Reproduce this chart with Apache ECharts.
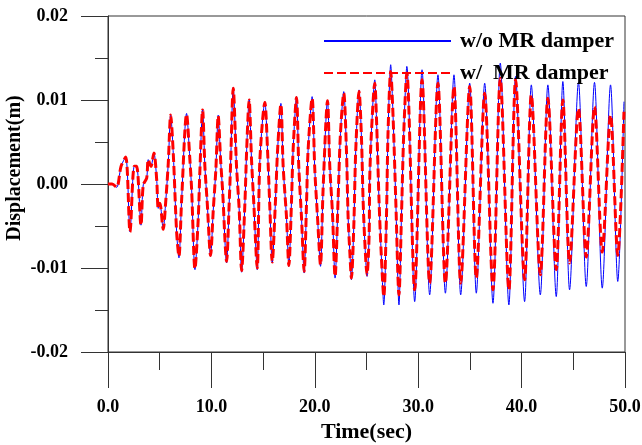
<!DOCTYPE html>
<html>
<head>
<meta charset="utf-8">
<script src="https://cdn.jsdelivr.net/npm/echarts@6/dist/echarts.min.js"></script>
<style>html,body{margin:0;padding:0;background:#fff}#c{width:642px;height:445px}</style>
</head>
<body>
<div id="c"></div>
<script>
const xTicks = [0, 10, 20, 30, 40, 50];
const yTicks = [-0.02, -0.01, 0.00, 0.01, 0.02];
const seriesNames = ['w/o MR damper', 'w/  MR damper'];
const yTitle = 'Displacement(m)';

const time = [
  0.00, 0.40, 0.84, 1.26, 1.71, 2.13, 2.54, 2.77, 3.19, 3.41, 3.74, 3.89, 4.15, 4.44, 4.71, 4.86, 5.02, 5.34, 5.57, 5.83,
  6.06, 6.31, 6.64, 6.86, 7.12, 7.60, 7.92, 8.09, 8.41, 8.72, 8.89, 9.15, 9.37, 9.60, 9.92, 10.18, 10.43, 10.66, 10.89, 11.08,
  11.47, 11.72, 11.86, 12.11, 12.43, 12.69, 12.92, 13.24, 13.40, 13.65, 13.88, 14.10, 14.43, 14.69, 15.17, 15.43, 15.65, 15.88, 16.20, 16.40,
  16.72, 16.94, 17.26, 17.49, 17.75, 17.90, 18.23, 18.45, 18.71, 18.97, 19.20, 19.35, 19.74, 20.00, 20.26, 20.55, 20.80, 21.23, 21.45, 21.71,
  21.96, 22.25, 22.48, 22.80, 23.06, 23.22, 23.38, 23.54, 23.77, 23.96, 24.28, 24.51, 24.67, 24.83, 25.05, 25.25, 25.31, 25.47, 25.80, 25.96,
  26.21, 26.44, 26.67, 26.93, 27.08, 27.34, 27.57, 27.83, 28.14, 28.38, 28.60, 28.90, 29.66, 30.37, 31.11, 31.91, 32.63, 33.46, 34.11, 34.98,
  35.62, 36.43, 37.23, 37.94, 38.77, 39.42, 40.29, 40.94, 41.81, 42.54, 43.35, 43.99, 44.64, 45.50, 46.25, 47.05, 47.80, 48.60, 49.30, 49.90
];

const dispWithout = [
  0.0000, 0.0000, -0.0004, 0.0021, 0.0032, -0.0057, 0.0021, 0.0021, -0.0049, -0.0001, 0.0007, 0.0029, 0.0021, 0.0037, 0.0005, -0.0029, -0.0023, -0.0054, -0.0023, 0.0025,
  0.0082, 0.0037, -0.0058, -0.0088, -0.0019, 0.0084, 0.0029, -0.0007, -0.0102, -0.0043, 0.0017, 0.0089, 0.0021, -0.0023, -0.0086, -0.0031, 0.0017, 0.0082, 0.0029, -0.0007,
  -0.0094, -0.0023, 0.0025, 0.0115, 0.0021, -0.0031, -0.0105, -0.0023, 0.0037, 0.0101, 0.0029, -0.0023, -0.0102, 0.0029, 0.0098, 0.0040, -0.0027, -0.0094, -0.0019, 0.0040,
  0.0096, 0.0021, -0.0039, -0.0098, -0.0019, 0.0040, 0.0104, 0.0021, -0.0039, -0.0106, -0.0023, 0.0040, 0.0104, 0.0017, -0.0039, -0.0098, -0.0007, 0.0100, 0.0021, -0.0035,
  -0.0112, -0.0019, 0.0060, 0.0110, 0.0040, -0.0039, -0.0079, -0.0114, -0.0051, 0.0040, 0.0112, 0.0056, -0.0019, -0.0067, -0.0110, -0.0063, 0.0005, 0.0060, 0.0124, 0.0080,
  -0.0019, -0.0087, -0.0144, -0.0039, 0.0060, 0.0142, 0.0080, -0.0019, -0.0144, -0.0039, 0.0060, 0.0140, -0.0140, 0.0136, -0.0132, 0.0130, -0.0130, 0.0130, -0.0132, 0.0120,
  -0.0130, 0.0120, -0.0142, 0.0144, -0.0144, 0.0128, -0.0140, 0.0118, -0.0132, 0.0118, -0.0134, 0.0122, -0.0126, 0.0121, -0.0122, 0.0121, -0.0124, 0.0118, -0.0116, 0.0098
];

const dispWith = [
  0.0000, 0.0000, -0.0004, 0.0021, 0.0032, -0.0057, 0.0021, 0.0021, -0.0049, -0.0001, 0.0007, 0.0029, 0.0021, 0.0037, 0.0005, -0.0029, -0.0023, -0.0054, -0.0023, 0.0025,
  0.0082, 0.0037, -0.0058, -0.0086, -0.0019, 0.0083, 0.0029, -0.0007, -0.0101, -0.0043, 0.0017, 0.0088, 0.0021, -0.0023, -0.0085, -0.0031, 0.0017, 0.0081, 0.0029, -0.0007,
  -0.0092, -0.0023, 0.0025, 0.0114, 0.0021, -0.0031, -0.0103, -0.0023, 0.0037, 0.0100, 0.0029, -0.0023, -0.0100, 0.0029, 0.0097, 0.0040, -0.0027, -0.0093, -0.0019, 0.0040,
  0.0095, 0.0021, -0.0039, -0.0097, -0.0019, 0.0040, 0.0103, 0.0021, -0.0039, -0.0104, -0.0023, 0.0040, 0.0102, 0.0017, -0.0039, -0.0096, -0.0007, 0.0099, 0.0021, -0.0035,
  -0.0110, -0.0019, 0.0060, 0.0108, 0.0040, -0.0039, -0.0079, -0.0112, -0.0051, 0.0040, 0.0110, 0.0056, -0.0019, -0.0067, -0.0108, -0.0063, 0.0005, 0.0060, 0.0120, 0.0080,
  -0.0019, -0.0087, -0.0134, -0.0039, 0.0060, 0.0134, 0.0080, -0.0019, -0.0132, -0.0039, 0.0060, 0.0132, -0.0126, 0.0124, -0.0118, 0.0120, -0.0118, 0.0116, -0.0118, 0.0116,
  -0.0112, 0.0108, -0.0126, 0.0126, -0.0126, 0.0124, -0.0114, 0.0106, -0.0108, 0.0102, -0.0102, 0.0100, -0.0094, 0.0090, -0.0087, 0.0092, -0.0081, 0.0082, -0.0085, 0.0086
];

const FONT = 'Liberation Serif';
const AXIS_COLOR = '#333';

const chart = echarts.init(document.getElementById('c'), null, {renderer: 'canvas'});
chart.setOption({
  animation: false,
  backgroundColor: '#fff',
  grid: {left: 108, right: 17, top: 16, bottom: 93, show: true, borderColor: AXIS_COLOR, borderWidth: 1,
         containLabel: false, outerBoundsMode: 'none'},
  graphic: [{
    type: 'text', x: 15, y: 168, rotation: Math.PI / 2,
    style: {text: yTitle, fontFamily: FONT, fontWeight: 'bold', fontSize: 20, fill: '#000', align: 'center', verticalAlign: 'middle'}
  }],
  legend: {
    orient: 'vertical', left: 318, top: 25, itemWidth: 127, itemHeight: 20, itemGap: 10,
    data: seriesNames,
    itemStyle: {opacity: 0},
    textStyle: {fontFamily: FONT, fontWeight: 'bold', fontSize: 22, color: '#000', padding: [0, 0, 0, 4]}
  },
  xAxis: {
    type: 'value', min: xTicks[0], max: xTicks[xTicks.length - 1], interval: 10,
    name: 'Time(sec)', nameLocation: 'middle', nameGap: 68,
    nameTextStyle: {fontFamily: FONT, fontWeight: 'bold', fontSize: 22, color: '#000'},
    axisLine: {onZero: false, lineStyle: {color: AXIS_COLOR, width: 1}},
    axisTick: {length: 36, lineStyle: {color: AXIS_COLOR}},
    minorTick: {show: true, splitNumber: 2, length: 18, lineStyle: {color: AXIS_COLOR}},
    splitLine: {show: false},
    axisLabel: {margin: 46, fontFamily: FONT, fontWeight: 'bold', fontSize: 18, color: '#000', formatter: v => v.toFixed(1)}
  },
  yAxis: {
    type: 'value', min: yTicks[0], max: yTicks[yTicks.length - 1], interval: 0.01,
    axisLine: {onZero: false, lineStyle: {color: AXIS_COLOR, width: 1}},
    axisTick: {length: 27, lineStyle: {color: AXIS_COLOR}},
    minorTick: {show: true, splitNumber: 2, length: 13, lineStyle: {color: AXIS_COLOR}},
    splitLine: {show: false},
    axisLabel: {margin: 40, fontFamily: FONT, fontWeight: 'bold', fontSize: 18, color: '#000', formatter: v => v.toFixed(2)}
  },
  series: [
    {
      name: seriesNames[0], type: 'line', symbol: 'none', smooth: 0.3,
      data: time.map((t, i) => [t, dispWithout[i]]),
      lineStyle: {color: '#0000ff', width: 1}, itemStyle: {color: '#0000ff', opacity: 0}, z: 2
    },
    {
      name: seriesNames[1], type: 'line', symbol: 'none', smooth: 0.3,
      data: time.map((t, i) => [t, dispWith[i]]),
      lineStyle: {color: '#ff0000', width: 3, type: [9, 4]}, itemStyle: {color: '#ff0000', opacity: 0}, z: 3
    }
  ]
});
</script>
</body>
</html>
